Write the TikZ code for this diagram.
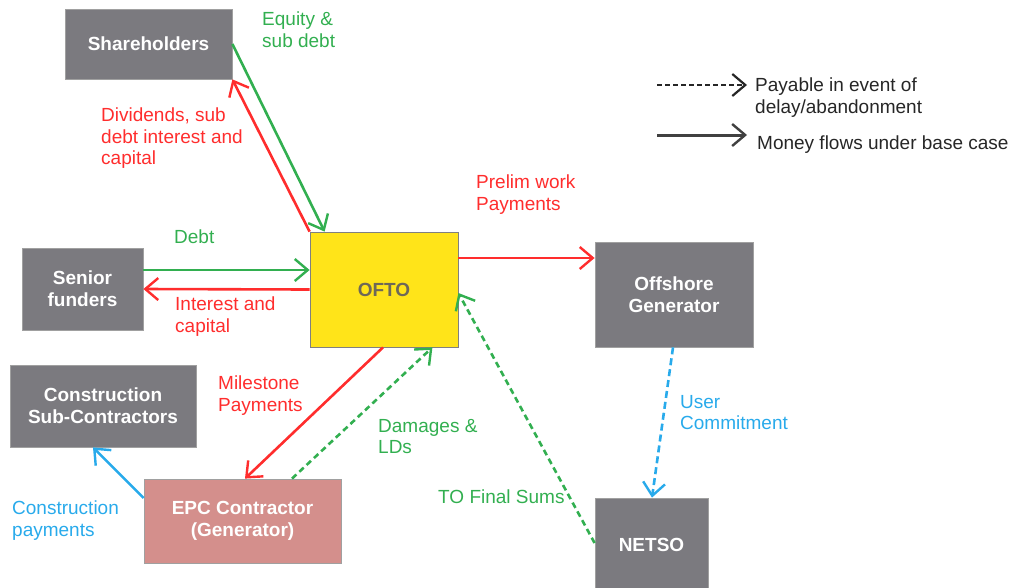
\documentclass[tikz,border=0pt]{standalone}
\usepackage{fontspec}
\setmainfont{Liberation Sans}
\usetikzlibrary{arrows.meta,calc}
\definecolor{boxgray}{RGB}{123,122,127}
\definecolor{boxedge}{RGB}{160,160,160}
\definecolor{oftoyel}{RGB}{255,228,25}
\definecolor{oftotxt}{RGB}{110,104,88}
\definecolor{epcpink}{RGB}{212,143,140}
\definecolor{fred}{RGB}{255,45,45}
\definecolor{fgreen}{RGB}{50,175,80}
\definecolor{fblue}{RGB}{40,170,235}
\begin{document}
\begin{tikzpicture}[x=1pt,y=-1pt,
  every node/.style={font=\fontsize{19}{21.5}\selectfont},
  boxnode/.style={draw=boxedge,line width=0.8pt,fill=boxgray,text=white,
    font=\fontsize{19}{22}\selectfont\bfseries,align=center,inner sep=0pt},
  lbl/.style={anchor=north west,align=left,inner sep=0pt},
  flow/.style={line width=2.6pt,-{Straight Barb[length=13pt,width=22pt,line width=2.4pt]}},
  dflow/.style={flow,dash pattern=on 6pt off 4pt},
]
\useasboundingbox (0,0) rectangle (1015,587);
% boxes
\node[boxnode,minimum width=167pt,minimum height=70pt] (sh) at (148.5,44) {Shareholders};
\node[boxnode,fill=oftoyel,draw=gray,text=oftotxt,minimum width=148pt,minimum height=115pt] (ofto) at (384,289.5) {OFTO};
\node[boxnode,minimum width=121pt,minimum height=82pt] (sr) at (82.5,289) {Senior\\funders};
\node[boxnode,minimum width=186pt,minimum height=82pt] (subc) at (103,406) {Construction\\Sub-Contractors};
\node[boxnode,fill=epcpink,minimum width=197pt,minimum height=84pt] (epc) at (242.5,521) {EPC Contractor\\(Generator)};
\node[boxnode,minimum width=158pt,minimum height=105pt] (off) at (674,294.5) {Offshore\\Generator};
\node[boxnode,minimum width=113pt,minimum height=94pt] (netso) at (651.5,545) {NETSO};
% connectors
\draw[flow,fred] (ofto.north west) -- (sh.south east);
\draw[flow,fgreen] (sh.east) -- ($(ofto.north west)+(15,0)$);
\draw[flow,fgreen] ($(sr.east)+(0,-19)$) -- ($(ofto.west)+(0,-19.5)$);
\draw[flow,fred] (ofto.west) -- (sr.east);
\draw[flow,fred] ($(ofto.east)+(0,-31.5)$) -- ($(off.west)+(0,-36.5)$);
\draw[flow,fred] ($(ofto.south)+(-1,0)$) -- ($(epc.north)+(2.5,0)$);
\draw[dflow,fgreen] ($(epc.north)+(49.5,0)$) -- ($(ofto.south east)+(-26,0)$);
\draw[flow,fblue] ($(epc.west)+(0,-23)$) -- ($(subc.south)+(-10,0)$);
\draw[dflow,fgreen] ($(netso.west)+(0,-2)$) -- ($(ofto.east)+(0,3.5)$);
\draw[dflow,fblue,dash pattern=on 7pt off 4pt] ($(off.south)+(-1,0)$) -- ($(netso.north)+(0.5,0)$);
% labels
\node[lbl,text=fgreen] (l1) at (262,12) {Equity \&\\sub debt};
\node[lbl,text=fred] (l2) at (101,108) {Dividends, sub\\debt interest and\\capital};
\node[lbl,text=fgreen] (l3) at (174,230) {Debt};
\node[lbl,text=fred] (l4) at (175,297) {Interest and\\capital};
\node[lbl,text=fred] (l5) at (476,175) {Prelim work\\Payments};
\node[lbl,text=fred] (l6) at (218,376) {Milestone\\Payments};
\node[lbl,text=fgreen] (l7) at (378,419) {Damages \&\\LDs};
\node[lbl,text=fgreen] (l8) at (438,490) {TO Final Sums};
\node[lbl,text=fblue] (l9) at (12,501) {Construction\\payments};
\node[lbl,text=fblue] (l10) at (680,395) {User\\Commitment};
% legend
\coordinate (la1) at (657,85);
\coordinate (la2) at (747,85);
\coordinate (lb1) at (657,135);
\coordinate (lb2) at (747,135);
\draw[line width=2pt,dash pattern=on 5pt off 3pt,-{Straight Barb[length=13pt,width=22pt,line width=2.2pt]},black!85] (la1) -- (la2);
\draw[line width=3pt,-{Straight Barb[length=13pt,width=22pt,line width=2.4pt]},black!75] (lb1) -- (lb2);
\node[lbl,text=black!85] (lt1) at (755,78) {Payable in event of\\delay/abandonment};
\node[lbl,text=black!85] (lt2) at (757,136) {Money flows under base case};
\end{tikzpicture}
\end{document}
